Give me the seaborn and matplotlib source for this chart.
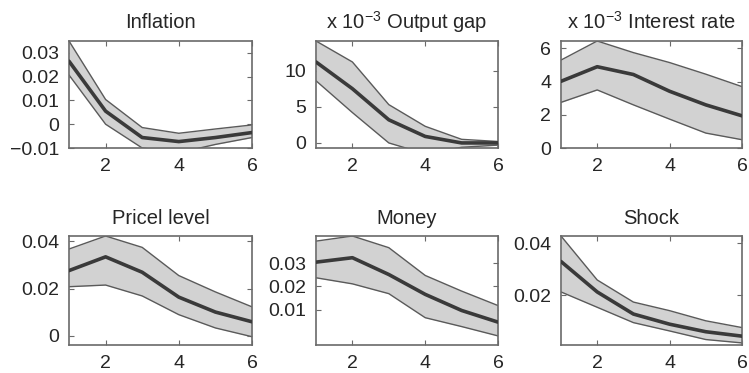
import matplotlib
matplotlib.use("Agg")
import matplotlib.pyplot as plt
import seaborn as sns
import pandas as pd
from matplotlib.ticker import FuncFormatter

# horizon (periods after the shock)
steps = [1, 2, 3, 4, 5, 6]

# median response and band bounds
inflation_mid = [0.0265, 0.0055, -0.0056, -0.0073, -0.0056, -0.0035]
inflation_lo = [0.0207, 0.0000, -0.0100, -0.0120, -0.0085, -0.0056]
inflation_hi = [0.0350, 0.0104, -0.0014, -0.0038, -0.0020, -0.0003]

# output gap and interest rate are in units of 1e-3
gap_mid = [11.2, 7.5, 3.2, 0.9, 0.0, 0.0]
gap_lo = [8.6, 4.2, 0.0, -1.5, -0.6, -0.3]
gap_hi = [14.1, 11.2, 5.3, 2.3, 0.5, 0.2]

rate_mid = [4.02, 4.9, 4.43, 3.42, 2.6, 1.94]
rate_lo = [2.75, 3.5, 2.6, 1.74, 0.9, 0.5]
rate_hi = [5.3, 6.45, 5.75, 5.15, 4.45, 3.7]

price_mid = [0.0276, 0.0334, 0.0269, 0.0164, 0.0101, 0.0060]
price_lo = [0.0208, 0.0215, 0.0169, 0.0090, 0.0034, -0.0003]
price_hi = [0.0367, 0.0422, 0.0374, 0.0255, 0.0186, 0.0123]

money_mid = [0.0304, 0.0323, 0.0251, 0.0166, 0.0097, 0.0047]
money_lo = [0.0237, 0.0211, 0.0169, 0.0066, 0.0028, -0.0012]
money_hi = [0.0394, 0.0416, 0.0366, 0.0247, 0.0180, 0.0118]

shock_mid = [0.0329, 0.0212, 0.0127, 0.0088, 0.0059, 0.0042]
shock_lo = [0.0212, 0.0153, 0.0094, 0.0062, 0.0029, 0.0016]
shock_hi = [0.0427, 0.0258, 0.0173, 0.0140, 0.0101, 0.0075]

titles = ["Inflation", r"x 10$^{-3}$ Output gap", r"x 10$^{-3}$ Interest rate",
          "Pricel level", "Money", "Shock"]
mids = [inflation_mid, gap_mid, rate_mid, price_mid, money_mid, shock_mid]
lows = [inflation_lo, gap_lo, rate_lo, price_lo, money_lo, shock_lo]
highs = [inflation_hi, gap_hi, rate_hi, price_hi, money_hi, shock_hi]
yticks = [[-0.01, 0, 0.01, 0.02, 0.03], [0, 5, 10], [0, 2, 4, 6],
          [0, 0.02, 0.04], [0.01, 0.02, 0.03], [0.02, 0.04]]
ylims = [(-0.0100, 0.0350), (-0.7, 14.1), (0.0, 6.45),
         (-0.0038, 0.0422), (-0.0051, 0.0416), (0.0008, 0.0427)]

sns.set_style("ticks")
plt.rcParams["font.family"] = ["Liberation Sans", "DejaVu Sans"]
plt.rcParams["mathtext.fontset"] = "custom"
plt.rcParams["mathtext.rm"] = "Liberation Sans"
plt.rcParams["mathtext.it"] = "Liberation Sans"

W, H = 749, 373
fig = plt.figure(figsize=(W / 100, H / 100), dpi=100)

# axes boxes in pixels: (left, top, right, bottom)
cols = [(69, 252), (316, 498), (561, 742)]
rows = [(41, 148), (236, 345)]

band_fill = "#d2d2d2"
band_edge = "#5a5a5a"
mid_color = "#3a3a3a"
frame_color = "#6a6a6a"


def fmt(v, pos):
    s = f"{v:g}"
    return s.replace("-", "\u2212")


for i in range(6):
    r, c = divmod(i, 3)
    x0, x1 = cols[c]
    y0, y1 = rows[r]
    ax = fig.add_axes([x0 / W, 1 - y1 / H, (x1 - x0) / W, (y1 - y0) / H])

    df = pd.DataFrame({"step": steps, "mid": mids[i], "lo": lows[i], "hi": highs[i]})
    ax.fill_between(df["step"], df["lo"], df["hi"], color=band_fill, lw=0, zorder=1)
    sns.lineplot(data=df, x="step", y="lo", ax=ax, color=band_edge, lw=1.0, zorder=2)
    sns.lineplot(data=df, x="step", y="hi", ax=ax, color=band_edge, lw=1.0, zorder=2)
    sns.lineplot(data=df, x="step", y="mid", ax=ax, color=mid_color, lw=2.6, zorder=3)

    ax.set_xlim(1, 6)
    ax.set_ylim(*ylims[i])
    ax.set_xticks([2, 4, 6])
    ax.set_yticks(yticks[i])
    ax.yaxis.set_major_formatter(FuncFormatter(fmt))
    ax.set_xlabel("")
    ax.set_ylabel("")
    ax.set_title(titles[i], fontsize=14.5, pad=9)
    ax.tick_params(direction="in", length=3.5, width=0.8, color=frame_color,
                   labelsize=14, top=True, right=True, pad=7)
    for spine in ax.spines.values():
        spine.set_visible(True)
        spine.set_edgecolor(frame_color)
        spine.set_linewidth(1.2)

fig.savefig("out.png", dpi=100)
